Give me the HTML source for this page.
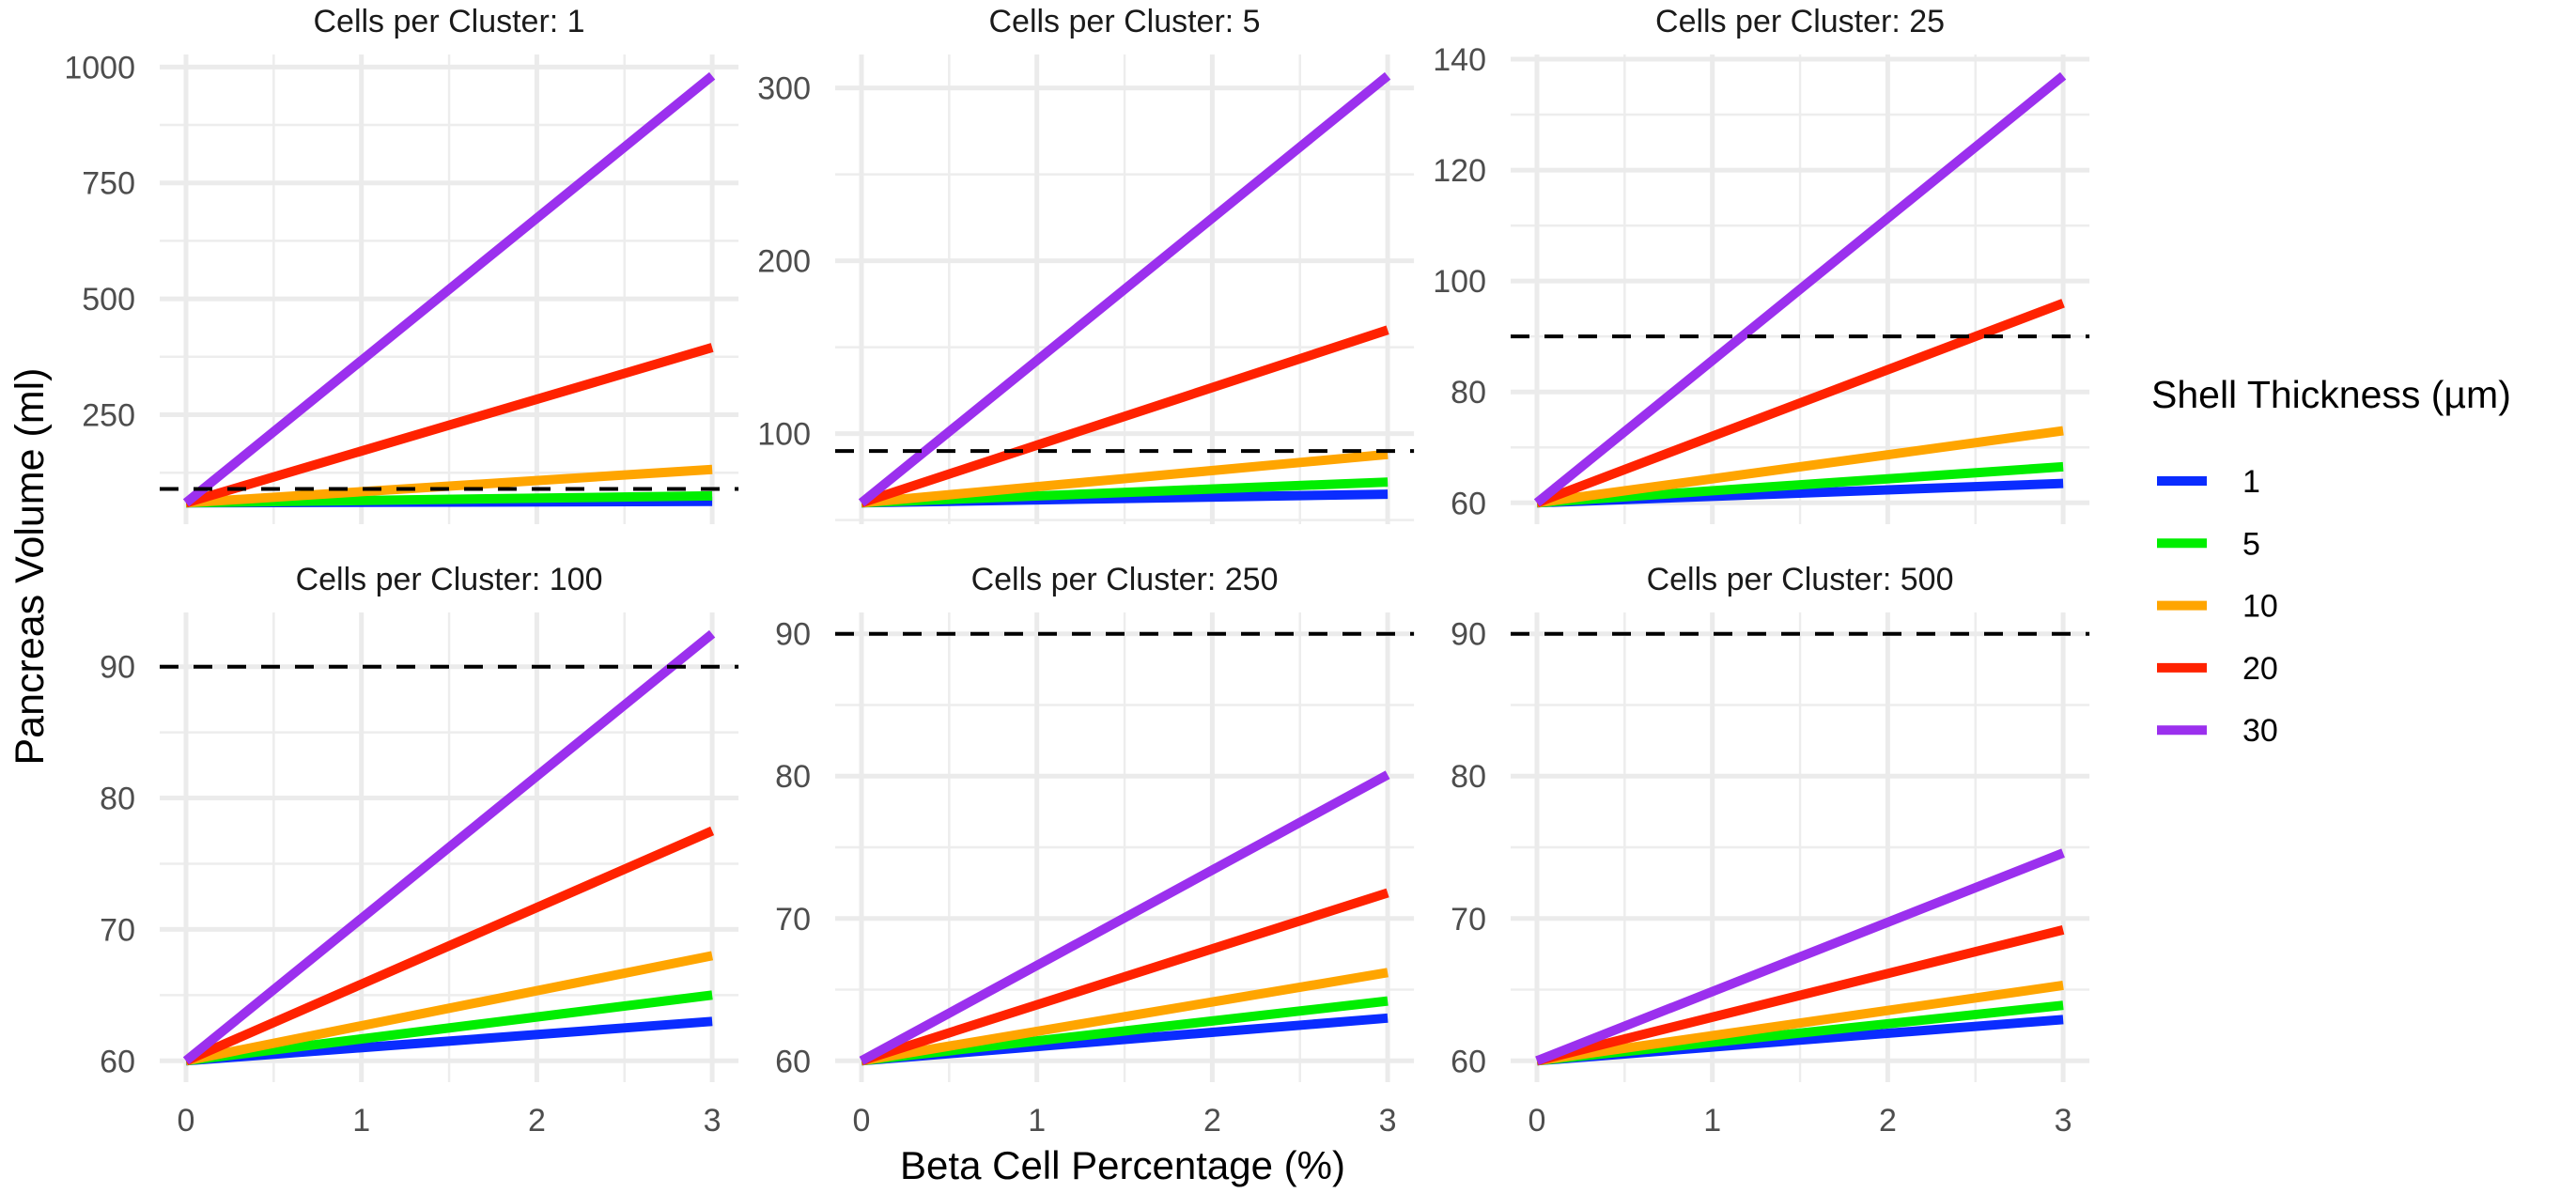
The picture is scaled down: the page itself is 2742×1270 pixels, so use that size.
<!DOCTYPE html>
<html><head><meta charset="utf-8"><style>
html,body{margin:0;padding:0;background:#fff;}
svg{display:block;font-family:"Liberation Sans",sans-serif;}
</style></head><body>
<svg id="chart" width="2742" height="1270" viewBox="0 0 2742 1270" xmlns="http://www.w3.org/2000/svg"></svg>
<script>
const panelTitles = ["Cells per Cluster: 1","Cells per Cluster: 5","Cells per Cluster: 25","Cells per Cluster: 100","Cells per Cluster: 250","Cells per Cluster: 500"];
const thicknessLabels = ["1","5","10","20","30"];
const xValues = [0, 3];
const xTicks = [0, 1, 2, 3];
const startValue = 60;
const refLine = 90;
// end values at x=3 per panel, order: thickness 1,5,10,20,30
const endP1 = [63, 75, 132, 395, 981];
const endP2 = [65, 72, 88, 160, 307];
const endP3 = [63.5, 66.5, 73, 96, 137];
const endP4 = [63, 65, 68, 77.5, 92.5];
const endP5 = [63, 64.2, 66.2, 71.8, 80.1];
const endP6 = [62.9, 63.9, 65.3, 69.2, 74.6];
const yTicksP1 = [250, 500, 750, 1000];
const yTicksP2 = [100, 200, 300];
const yTicksP3 = [60, 80, 100, 120, 140];
const yTicksLow = [60, 70, 80, 90];
const endVals = [endP1, endP2, endP3, endP4, endP5, endP6];
const tickSets = [yTicksP1, yTicksP2, yTicksP3, yTicksLow, yTicksLow, yTicksLow];
const colors = ["#0a2cff", "#00ee00", "#ffa500", "#ff2200", "#9b30ee"];

const svg = document.getElementById('chart');
const NS = "http://www.w3.org/2000/svg";
function mk(tag, attrs, parent) {
  const e = document.createElementNS(NS, tag);
  for (const k in attrs) e.setAttribute(k, attrs[k]);
  (parent || svg).appendChild(e);
  return e;
}
const colX0 = [198, 917, 1636];
const rowTop = [58, 652];
const panelH = 500;
const pxPerUnit = 186.7;

for (let p = 0; p < 6; p++) {
  const col = p % 3, row = Math.floor(p / 3);
  const g = mk('g', {});
  
  
  const ends = endVals[p];
  let lo = Math.min(startValue, ...ends), hi = Math.max(startValue, ...ends, refLine);
  if (p === 0 || p === 1) hi = Math.max(startValue, ...ends);
  lo = Math.min(lo, refLine);
  const pad = (hi - lo) * 0.05;
  const dLo = lo - pad, dHi = hi + pad;
  const top = rowTop[row], bot = top + panelH;
  const yS = v => bot - (v - dLo) / (dHi - dLo) * panelH;
  const x0 = colX0[col];
  const xS = v => x0 + v * pxPerUnit;
  const left = xS(-0.15), right = xS(3.15);
  const ticks = tickSets[p];
  const step = ticks[1] - ticks[0];
  for (let v = ticks[0] - step / 2; v <= dHi; v += step) {
    if (v < dLo) continue;
    const l = mk('line', {x1: left, x2: right, y1: yS(v), y2: yS(v), stroke: '#ededed', 'stroke-width': 2.5}, g);
    
    
  }
  for (let v = 0.5; v < 3; v += 1) {
    const l = mk('line', {x1: xS(v), x2: xS(v), y1: top, y2: bot, stroke: '#ededed', 'stroke-width': 2.5}, g);
    
    
  }
  ticks.forEach(t => {
    const l = mk('line', {x1: left, x2: right, y1: yS(t), y2: yS(t), stroke: '#ebebeb', 'stroke-width': 5}, g);
    
    
    const tx = mk('text', {x: left - 26, y: yS(t) + 12, 'text-anchor': 'end', 'font-size': 34, fill: '#4d4d4d'}, g);
    tx.textContent = t;
    
    
  });
  xTicks.forEach(t => {
    const l = mk('line', {x1: xS(t), x2: xS(t), y1: top, y2: bot, stroke: '#ebebeb', 'stroke-width': 5}, g);
    
    
    if (row === 1) {
      const tx = mk('text', {x: xS(t), y: bot + 52, 'text-anchor': 'middle', 'font-size': 34, fill: '#4d4d4d'}, g);
      tx.textContent = t;
      
      
    }
  });
  const st = mk('text', {x: (left + right) / 2, y: top - 24, 'text-anchor': 'middle', 'font-size': 34, fill: '#1a1a1a'}, g);
  st.textContent = panelTitles[p];
  
  
  ends.forEach((e, i) => {
    const vals = [startValue, e];
    const l = mk('line', {x1: xS(xValues[0]), y1: yS(vals[0]), x2: xS(xValues[1]), y2: yS(vals[1]), stroke: colors[i], 'stroke-width': 10}, g);
    
    
  });
  const rl = mk('line', {x1: left, x2: right, y1: yS(refLine), y2: yS(refLine), stroke: '#000', 'stroke-width': 4, 'stroke-dasharray': '20 16'}, g);
  
  
}

const yt = mk('text', {x: 0, y: 0, transform: 'translate(46,603) rotate(-90)', 'text-anchor': 'middle', 'font-size': 43, fill: '#000'});
yt.textContent = 'Pancreas Volume (ml)';


const xt = mk('text', {x: 1195, y: 1255, 'text-anchor': 'middle', 'font-size': 42, fill: '#000'});
xt.textContent = 'Beta Cell Percentage (%)';



const lg = mk('g', {});


const lt = mk('text', {x: 2290, y: 434, 'font-size': 41, fill: '#000'}, lg);
lt.textContent = 'Shell Thickness (µm)';


thicknessLabels.forEach((lab, i) => {
  const y = 512 + i * 66.3;
  const k = mk('line', {x1: 2296, x2: 2349, y1: y, y2: y, stroke: colors[i], 'stroke-width': 10}, lg);
  
  
  const t = mk('text', {x: 2387, y: y + 12, 'font-size': 34, fill: '#000'}, lg);
  t.textContent = lab;
  
  
});
</script>
</body></html>
